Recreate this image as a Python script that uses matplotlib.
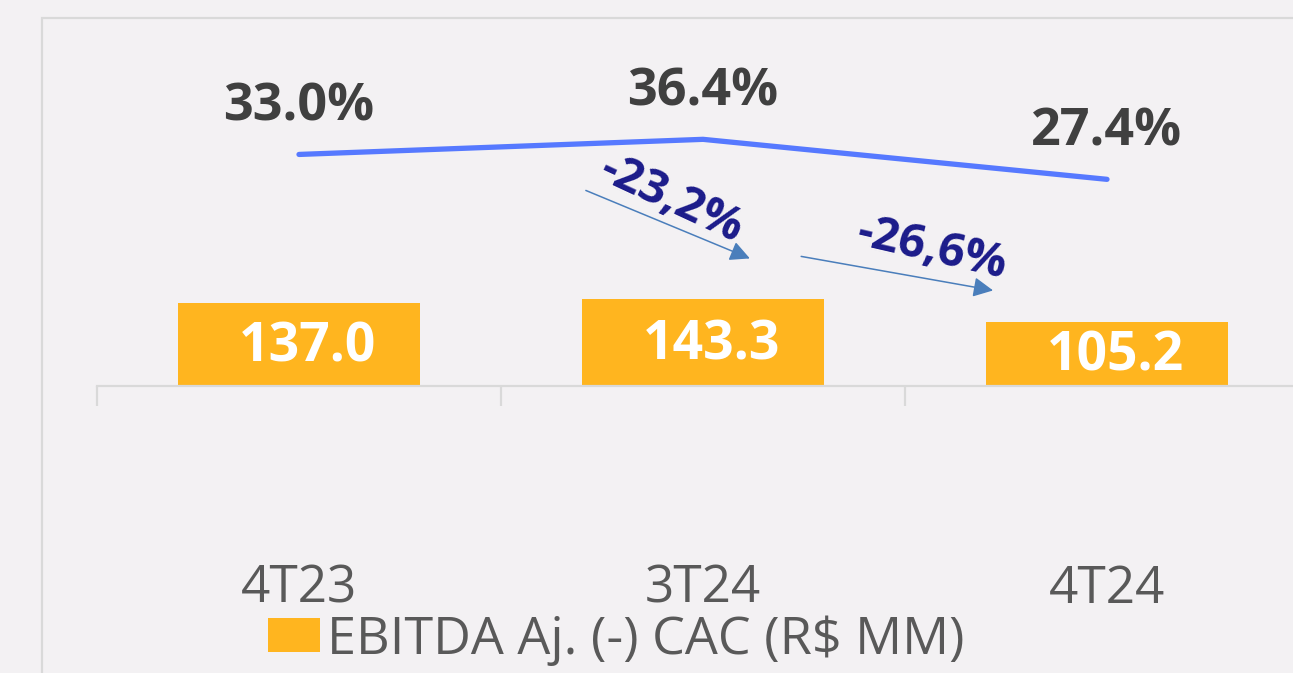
import matplotlib
matplotlib.use("Agg")
import matplotlib.pyplot as plt
from matplotlib.patches import Rectangle, Patch

# ---- data ----
categories = ["4T23", "3T24", "4T24"]
ebitda_cac = [137.0, 143.3, 105.2]          # R$ MM (bars)
margin_pct = [33.0, 36.4, 27.4]             # % (line)
change_labels = ["-23,2%", "-26,6%"]
legend_label = "EBITDA Aj. (-) CAC (R$ MM)"

# ---- style ----
BG = "#F3F1F3"
BAR_C = "#FFB51F"
LINE_C = "#5679FF"
GRID_C = "#D9D9D9"
PCT_C = "#404040"
TICK_C = "#595959"
ARROW_C = "#4A7EBB"
CHG_C = "#1B1B8A"
FONT = "Open Sans"

W, H = 1293, 673
fig = plt.figure(figsize=(W / 100, H / 100), dpi=100, facecolor=BG)

# plot-area border (left & top only visible)
fig.patches.append(Rectangle((42 / W, -0.1), 2.0, 1 - 18 / H + 0.1, transform=fig.transFigure,
                             fill=False, edgecolor=GRID_C, linewidth=1.6, zorder=0))

ax_left, ax_right = 97, 97 + 404 * 3
ax_bottom_px, ax_top_px = 386, 18
ax = fig.add_axes([ax_left / W, 1 - ax_bottom_px / H, (ax_right - ax_left) / W,
                   (ax_bottom_px - ax_top_px) / H])
ax.set_facecolor("none")
ax2 = ax.twinx()

x = list(range(len(categories)))
bars = ax.bar(x, ebitda_cac, width=0.6, color=BAR_C, zorder=2)
ax.set_xlim(-0.5, 2.5)
ax.set_ylim(0, 607.2)
ax2.set_ylim(-19.1, 63.7)

for s in ["top", "right", "left"]:
    ax.spines[s].set_visible(False)
    ax2.spines[s].set_visible(False)
ax2.spines["bottom"].set_visible(False)
ax.spines["bottom"].set_color(GRID_C)
ax.spines["bottom"].set_linewidth(1.6)
ax.set_yticks([])
ax2.set_yticks([])

ax.set_xticks(x)
ax.set_xticklabels(categories, fontsize=37, color=TICK_C, family=FONT)
ax.tick_params(axis="x", which="major", length=0, pad=128)
ax.set_xticks([-0.5, 0.5, 1.5], minor=True)
ax.tick_params(axis="x", which="minor", length=14.5, width=1.6, color=GRID_C)

# bar value labels
for xi, v in zip(x, ebitda_cac):
    ax.annotate(f"{v:.1f}", (xi, v / 2), xytext=(6, -2), textcoords="offset points",
                ha="center", va="center", fontsize=38.5, fontweight="bold",
                color="white", family=FONT, zorder=3)

# margin line
ax2.plot(x, margin_pct, color=LINE_C, linewidth=3.8, solid_capstyle="round", zorder=4)
for xi, v in zip(x, margin_pct):
    ax2.annotate(f"{v:.1f}%", (xi, v), xytext=(0, 34), textcoords="offset points",
                 ha="center", va="center", fontsize=37.5, fontweight="bold",
                 color=PCT_C, family=FONT)

# change arrows
arrows = [((0.71, 24.9), (1.116, 9.6)), ((1.243, 10.06), (1.718, 2.4))]
texts = [((0.923, 22.9), -25), ((1.566, 11.6), -13)]
for (p0, p1), ((tx, ty), rot), lab in zip(arrows, texts, change_labels):
    ax2.annotate("", xy=p1, xytext=p0,
                 arrowprops=dict(arrowstyle="-|>,head_length=0.8,head_width=0.4",
                                 mutation_scale=15, color=ARROW_C, lw=1.1,
                                 shrinkA=0, shrinkB=0))
    ax2.text(tx, ty, lab, rotation=rot, rotation_mode="anchor", ha="center", va="center",
             fontsize=34, fontweight="bold", color=CHG_C, family=FONT)

# legend
handle = Patch(facecolor=BAR_C, edgecolor="none")
fig.legend([handle], [legend_label], loc="center", bbox_to_anchor=(616 / W, 1 - 640 / H),
           frameon=False, prop={"family": FONT, "size": 37.5}, labelcolor=TICK_C,
           handlelength=1.0, handleheight=0.62, handletextpad=0.14, borderpad=0)

fig.savefig("out.png", dpi=100, facecolor=BG)
